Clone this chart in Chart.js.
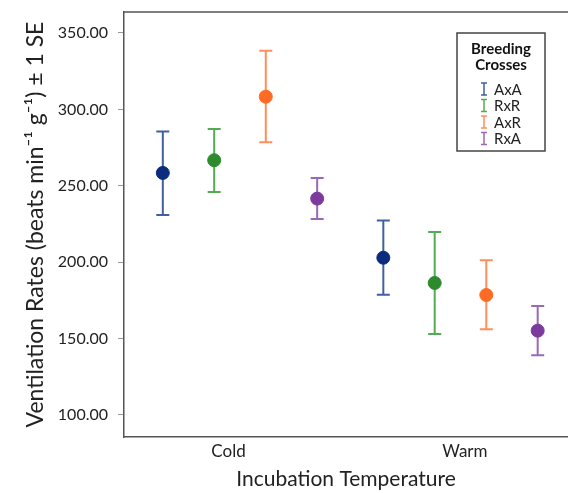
<!DOCTYPE html>
<html>
<head>
<meta charset="utf-8">
<script src="https://cdn.jsdelivr.net/npm/chart.js@4"></script>
<style>
  html, body { margin: 0; padding: 0; background: #fff; }
  canvas { display: block; }
</style>
</head>
<body>
<canvas id="grafico" width="568" height="493"></canvas>
<script>
// categorias del eje x y cruces
const categories = ['Cold', 'Warm'];
const crosses = ['AxA', 'RxR', 'AxR', 'RxA'];

// medias y limites de +-1 SE (Cold, Warm)
const meanAxA = [258.4, 202.9];
const lowAxA = [230.9, 178.7];
const highAxA = [285.5, 227.2];

const meanRxR = [266.7, 186.4];
const lowRxR = [245.9, 153.0];
const highRxR = [287.2, 219.8];

const meanAxR = [308.3, 178.5];
const lowAxR = [278.5, 156.1];
const highAxR = [338.4, 201.2];

const meanRxA = [241.6, 155.2];
const lowRxA = [228.3, 139.1];
const highRxA = [255.1, 171.3];

const yTicks = [100, 150, 200, 250, 300, 350];
// donde caen las etiquetas de categoria en el eje x
const xTickPos = [0.948, 2.02];

const medias = [meanAxA, meanRxR, meanAxR, meanRxA];
const bajos = [lowAxA, lowRxR, lowAxR, lowRxA];
const altos = [highAxA, highRxR, highAxR, highRxA];

const coloresPunto = ['#0b2c7c', '#2d8a2d', '#ff6a24', '#7b3a9c'];
const coloresBarra = ['#40609f', '#52ad52', '#ff8f5a', '#9a68b8'];
const desplazamiento = [-0.35, -0.117, 0.117, 0.35];

const FUENTE = 'Lato, "Open Sans", sans-serif';

var datasets = crosses.map(function(nombre, i) {
    return {
        label: nombre,
        data: categories.map(function(c, j) {
            return { x: j + 1 + desplazamiento[i], y: medias[i][j] };
        }),
        backgroundColor: coloresPunto[i],
        borderColor: coloresPunto[i],
        pointRadius: 6.5,
        pointHoverRadius: 6.5,
        showLine: false
    };
});

// barras de error dibujadas con las escalas del grafico
const barrasError = {
    id: 'barrasError',
    beforeDatasetsDraw(chart) {
        var ctx = chart.ctx;
        var escalaY = chart.scales.y;
        ctx.save();
        ctx.lineWidth = 2;
        for (var i = 0; i < crosses.length; i++) {
            var meta = chart.getDatasetMeta(i);
            ctx.strokeStyle = coloresBarra[i];
            for (var j = 0; j < meta.data.length; j++) {
                var x = meta.data[j].x;
                var yA = escalaY.getPixelForValue(altos[i][j]);
                var yB = escalaY.getPixelForValue(bajos[i][j]);
                ctx.beginPath();
                ctx.moveTo(x, yA); ctx.lineTo(x, yB);
                ctx.moveTo(x - 6.5, yA); ctx.lineTo(x + 6.5, yA);
                ctx.moveTo(x - 6.5, yB); ctx.lineTo(x + 6.5, yB);
                ctx.stroke();
            }
        }
        ctx.restore();
    },
    afterDraw(chart) {
        var ctx = chart.ctx;
        var area = chart.chartArea;
        ctx.save();
        // borde superior del area
        ctx.strokeStyle = '#555';
        ctx.lineWidth = 1.5;
        ctx.beginPath();
        ctx.moveTo(area.left, area.top);
        ctx.lineTo(area.right, area.top);
        ctx.stroke();

        // leyenda dentro del area
        var lx = area.right - 111, ly = area.top + 21, lw = 88, lh = 118;
        ctx.strokeStyle = '#444';
        ctx.lineWidth = 1.5;
        ctx.strokeRect(lx, ly, lw, lh);
        ctx.fillStyle = '#111';
        ctx.font = 'bold 15px ' + FUENTE;
        ctx.textAlign = 'center';
        ctx.textBaseline = 'middle';
        ctx.fillText('Breeding', lx + lw / 2, ly + 16);
        ctx.fillText('Crosses', lx + lw / 2, ly + 32);
        ctx.font = '15px ' + FUENTE;
        ctx.textAlign = 'left';
        for (var i = 0; i < crosses.length; i++) {
            var cy = ly + 56 + i * 16.5;
            var sx = lx + 27;
            ctx.strokeStyle = coloresBarra[i];
            ctx.lineWidth = 1.5;
            ctx.beginPath();
            ctx.moveTo(sx, cy - 6); ctx.lineTo(sx, cy + 6);
            ctx.moveTo(sx - 3, cy - 6); ctx.lineTo(sx + 3, cy - 6);
            ctx.moveTo(sx - 3, cy + 6); ctx.lineTo(sx + 3, cy + 6);
            ctx.stroke();
            ctx.fillStyle = '#222';
            ctx.fillText(crosses[i], sx + 10, cy + 1);
        }
        ctx.restore();
    }
};

var ctx = document.getElementById('grafico').getContext('2d');
new Chart(ctx, {
    type: 'scatter',
    data: { datasets: datasets },
    options: {
        responsive: false,
        animation: false,
        layout: { autoPadding: false, padding: { top: 12, right: 0, bottom: 0, left: 0 } },
        plugins: {
            legend: { display: false },
            tooltip: { enabled: false }
        },
        scales: {
            x: {
                type: 'linear',
                min: 0.474,
                max: 2.4875,
                afterBuildTicks: function(escala) {
                    escala.ticks = xTickPos.map(function(v) { return { value: v }; });
                },
                afterFit: function(escala) {
                    escala.height = 56;
                    escala.paddingLeft = 0;
                    escala.paddingRight = 0;
                },
                ticks: {
                    padding: 4,
                    color: '#222',
                    font: { family: FUENTE, size: 17 },
                    callback: function(v, indice) { return categories[indice]; }
                },
                grid: { display: false, drawTicks: false },
                border: { display: true, color: '#555', width: 1.5 },
                title: {
                    display: true,
                    text: 'Incubation Temperature',
                    color: '#222',
                    font: { family: FUENTE, size: 21 },
                    padding: { top: 0, bottom: 1 }
                }
            },
            y: {
                min: 85.6,
                max: 363.7,
                afterBuildTicks: function(escala) {
                    escala.ticks = yTicks.map(function(v) { return { value: v }; });
                },
                afterFit: function(escala) {
                    escala.width = 124;
                    escala.paddingTop = 0;
                    escala.paddingBottom = 0;
                },
                ticks: {
                    padding: 10,
                    color: '#222',
                    font: { family: FUENTE, size: 16 },
                    callback: function(v) { return v.toFixed(2); }
                },
                grid: { drawOnChartArea: false, drawTicks: true, tickLength: 6, color: '#999' },
                border: { display: true, color: '#555', width: 1.5 },
                title: {
                    display: true,
                    text: 'Ventilation Rates (beats min\u207B\u00B9 g\u207B\u00B9) \u00B1 1 SE',
                    color: '#222',
                    font: { family: FUENTE, size: 23 },
                    padding: { top: 22, bottom: 0 }
                }
            }
        }
    },
    plugins: [barrasError]
});
</script>
</body>
</html>
